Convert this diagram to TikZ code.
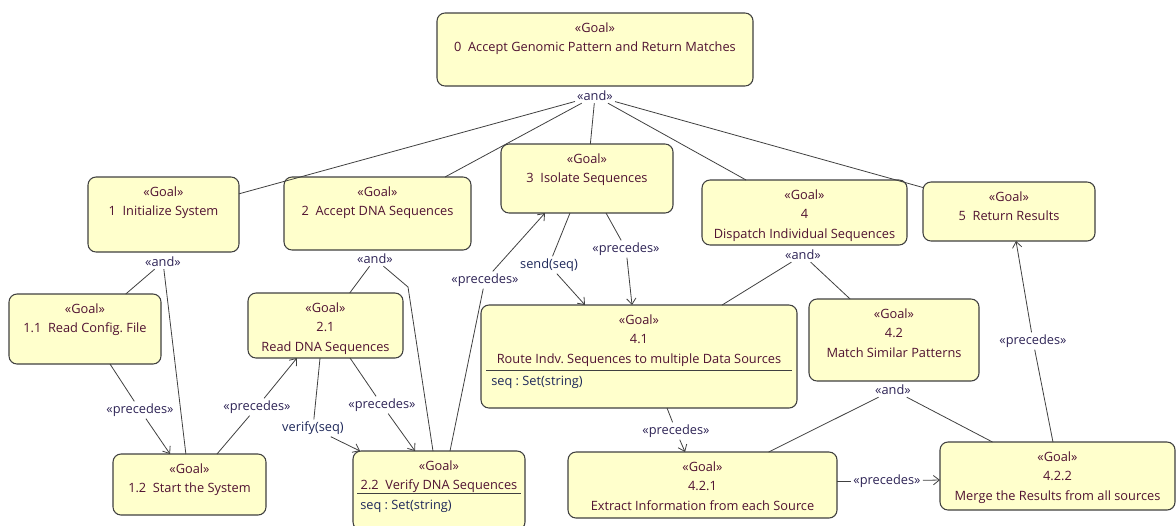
\documentclass[tikz,border=0pt]{standalone}
\usepackage{fontspec}
\setmainfont{Open Sans}
\usetikzlibrary{arrows.meta}
\definecolor{fillc}{RGB}{255,255,204}
\definecolor{boxc}{RGB}{64,64,64}
\definecolor{edgec}{RGB}{64,64,64}
\definecolor{gtc}{RGB}{80,18,50}
\definecolor{stc}{RGB}{45,35,85}
\definecolor{navc}{RGB}{30,40,90}
\begin{document}
\frenchspacing
\begin{tikzpicture}[x=0.75pt,y=-0.75pt,
  goalbox/.style 2 args={draw=boxc, fill=fillc, line width=0.8pt, rounded corners=6pt,
    minimum width=#1*0.75pt, minimum height=#2*0.75pt, inner sep=0pt, outer sep=0pt},
  gtext/.style={text=gtc, font=\fontsize{9.6}{14.6}\selectfont, align=center, inner sep=0pt, anchor=north},
  attr/.style={text=navc, font=\fontsize{9.6}{11}\selectfont, inner sep=0pt, anchor=west},
  stereo/.style={text=stc, font=\fontsize{9.6}{11}\selectfont, inner sep=1.5pt},
  msg/.style={text=navc, font=\fontsize{9.6}{11}\selectfont, inner sep=1.5pt},
  edge/.style={draw=edgec, line width=0.6pt},
  arr/.style={edge, -{Straight Barb[length=4.5pt,width=7pt]}},
  divider/.style={draw=boxc, line width=0.7pt}]
\useasboundingbox (0,0) rectangle (1176,525);

% goal boxes
\node[goalbox={316}{73}]  (n0)   at (595,49.5) {};
\node[goalbox={151}{75}]  (n1)   at (163.5,214.5) {};
\node[goalbox={187}{73}]  (n2)   at (377.5,213.5) {};
\node[goalbox={172}{69}]  (n3)   at (587,178.5) {};
\node[goalbox={205}{65}]  (n4)   at (804.5,212.5) {};
\node[goalbox={172}{59}]  (n5)   at (1009,211.5) {};
\node[goalbox={152}{70}]  (n11)  at (85,329) {};
\node[goalbox={153}{61}]  (n12)  at (189.5,484.5) {};
\node[goalbox={155}{65}]  (n21)  at (325.5,325.5) {};
\node[goalbox={172}{79}]  (n22)  at (439,490.5) {};
\node[goalbox={316}{103}] (n41)  at (639,356.5) {};
\node[goalbox={170}{82}]  (n42)  at (894,340) {};
\node[goalbox={269}{66}]  (n421) at (702.5,485) {};
\node[goalbox={235}{68}]  (n422) at (1057.5,476) {};

% box texts
\node[gtext] (t0)   at ([yshift=-7pt]n0.north)   {«Goal»\\0\ \ Accept Genomic Pattern and Return Matches};
\node[gtext] (t1)   at ([yshift=-7pt]n1.north)   {«Goal»\\1\ \ Initialize System};
\node[gtext] (t2)   at ([yshift=-7pt]n2.north)   {«Goal»\\2\ \ Accept DNA Sequences};
\node[gtext] (t3)   at ([yshift=-7pt]n3.north)   {«Goal»\\3\ \ Isolate Sequences};
\node[gtext] (t4)   at ([yshift=-7pt]n4.north)   {«Goal»\\4\\Dispatch Individual Sequences};
\node[gtext] (t5)   at ([yshift=-7pt]n5.north)   {«Goal»\\5\ \ Return Results};
\node[gtext] (t11)  at ([yshift=-7pt]n11.north)  {«Goal»\\1.1\ \ Read Config. File};
\node[gtext] (t12)  at ([yshift=-7pt]n12.north)  {«Goal»\\1.2\ \ Start the System};
\node[gtext] (t21)  at ([yshift=-7pt]n21.north)  {«Goal»\\2.1\\Read DNA Sequences};
\node[gtext] (t22)  at ([yshift=-7pt]n22.north)  {«Goal»\\2.2\ \ Verify DNA Sequences};
\node[gtext] (t41)  at ([yshift=-7pt]n41.north)  {«Goal»\\4.1\\Route Indv. Sequences to multiple Data Sources};
\node[gtext] (t42)  at ([yshift=-7pt]n42.north)  {«Goal»\\4.2\\Match Similar Patterns};
\node[gtext] (t421) at ([yshift=-7pt]n421.north) {«Goal»\\4.2.1\\Extract Information from each Source};
\node[gtext] (t422) at ([yshift=-7pt]n422.north) {«Goal»\\4.2.2\\Merge the Results from all sources};

% attribute compartments
\draw[divider] (486,370) -- (792,370);
\node[attr] (a41) at (491,382) {seq : Set(string)};
\draw[divider] (357,493) -- (521,493);
\node[attr] (a22) at (360,506) {seq : Set(string)};

% and-refinements
\node[stereo] (and0)  at (595,96)  {«and»};
\node[stereo] (and1)  at (163,262) {«and»};
\node[stereo] (and2)  at (375,259) {«and»};
\node[stereo] (and4)  at (803,255) {«and»};
\node[stereo] (and42) at (893,390) {«and»};
\coordinate (b2) at (408,287);

\draw[edge] (and0) -- (n1);
\draw[edge] (and0) -- (n2);
\draw[edge] (and0) -- (n3);
\draw[edge] (and0) -- (n4);
\draw[edge] (and0) -- (n5);
\draw[edge] (and1) -- (n11);
\draw[edge] (and1) -- (n12);
\draw[edge] (and2) -- (n21);
\draw[edge] (and2) -- (b2) -- (n22);
\draw[edge] (and4) -- (n41);
\draw[edge] (and4) -- (n42);
\draw[edge] (and42) -- (n421);
\draw[edge] (and42) -- (n422);

% precedes / message labels
\node[stereo] (p1) at (140,410)  {«precedes»};
\node[stereo] (p2) at (257,407)  {«precedes»};
\node[msg]    (v)  at (313,428)  {verify(seq)};
\node[stereo] (p3) at (382,405)  {«precedes»};
\node[msg]    (s)  at (549,265)  {send(seq)};
\node[stereo] (p4) at (485,280)  {«precedes»};
\node[stereo] (p5) at (626,249)  {«precedes»};
\node[stereo] (p6) at (676,431)  {«precedes»};
\node[stereo] (p7) at (887,481)  {«precedes»};
\node[stereo] (p8) at (1033,341) {«precedes»};

\draw[edge] ([xshift=18.75pt]n11.south) -- (p1);
\draw[arr]  (p1) -- ([xshift=-14.6pt]n12.north);
\draw[edge] ([xshift=20.6pt]n12.north) -- (p2);
\draw[arr]  (p2) -- ([xshift=-21.4pt]n21.south);
\draw[edge] ([xshift=-4.1pt]n21.south) -- (v);
\draw[arr]  (v) -- ([xshift=5.25pt]n22.north west);
\draw[edge] ([xshift=18.4pt]n21.south) -- (p3);
\draw[arr]  (p3) -- ([xshift=-18pt]n22.north);
\draw[edge] ([xshift=8.25pt]n22.north) -- (p4);
\draw[arr]  (p4) -- ([xshift=-31.5pt]n3.south);
\draw[edge] ([xshift=-12.75pt]n3.south) -- (s);
\draw[arr]  (s) -- ([xshift=-40.5pt]n41.north);
\draw[edge] ([xshift=14.25pt]n3.south) -- (p5);
\draw[arr]  (p5) -- ([xshift=-5.25pt]n41.north);
\draw[edge] ([xshift=21pt]n41.south) -- (p6);
\draw[arr]  (p6) -- ([xshift=-13.1pt]n421.north);
\draw[edge] ([yshift=3pt]n421.east) -- (p7);
\draw[arr]  (p7) -- ([yshift=-3pt]n422.west);
\draw[edge] ([xshift=-3.4pt]n422.north) -- (p8);
\draw[arr]  (p8) -- ([xshift=5.25pt]n5.south);
\end{tikzpicture}
\end{document}
